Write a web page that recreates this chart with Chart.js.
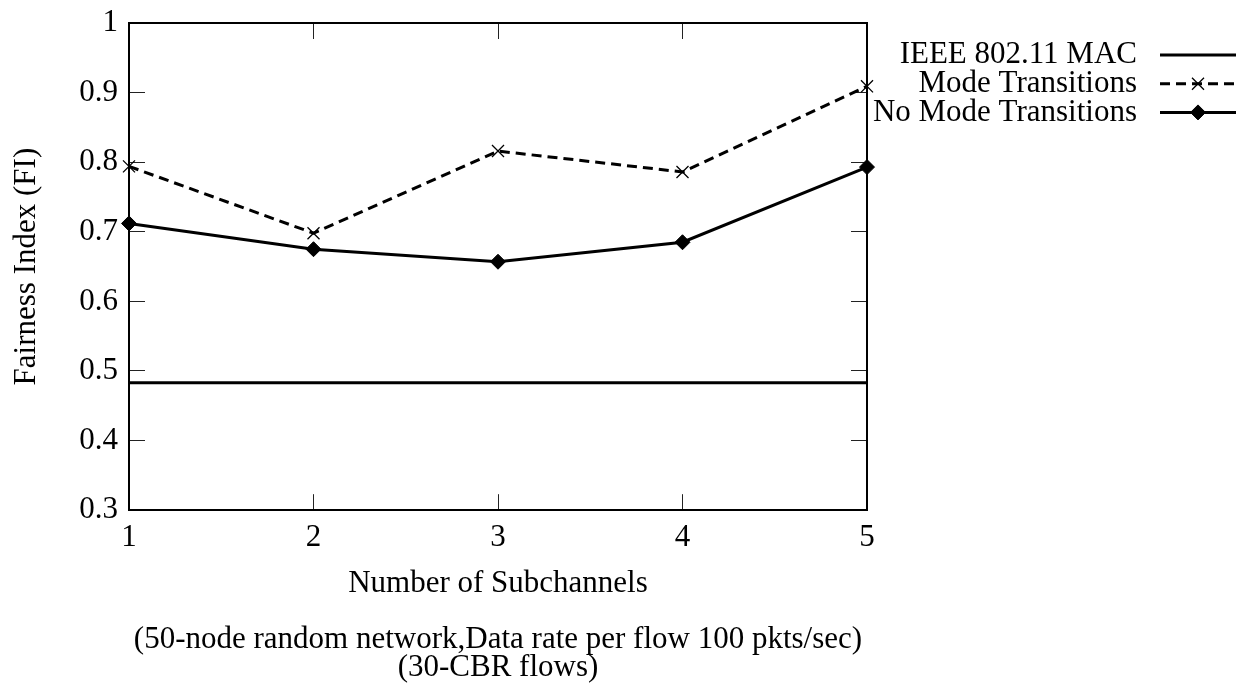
<!DOCTYPE html>
<html>
<head>
<meta charset="utf-8">
<title>Fairness Index vs Number of Subchannels</title>
<script src="https://cdn.jsdelivr.net/npm/chart.js@4.4.1/dist/chart.umd.min.js"></script>
<style>
  html, body { margin: 0; padding: 0; background: #fff; }
  #wrap { width: 1245px; height: 684px; }
</style>
</head>
<body>
<div id="wrap"><canvas id="fiChart" width="1245" height="684"></canvas></div>
<script>
// x categories and the three measured series
const subchannels = ['1', '2', '3', '4', '5'];
const ieeeMac = [0.483, 0.483, 0.483, 0.483, 0.483];
const modeTransitions = [0.794, 0.698, 0.816, 0.786, 0.909];
const noModeTransitions = [0.712, 0.675, 0.657, 0.685, 0.793];
const yTickValues = [0.3, 0.4, 0.5, 0.6, 0.7, 0.8, 0.9, 1];

const SERIF = "'Liberation Serif', 'Times New Roman', Times, serif";
Chart.defaults.font.family = SERIF;
Chart.defaults.font.size = 31;
Chart.defaults.color = '#000';

// gnuplot-like legend: right-aligned label, sample line to its right
const sideLegend = {
  id: 'sideLegend',
  afterDraw(chart) {
    const { ctx, chartArea } = chart;
    const textRight = chartArea.right + 270;
    const x0 = chartArea.right + 293;
    const x1 = chartArea.right + 369;
    ctx.save();
    ctx.font = '31px ' + SERIF;
    ctx.textAlign = 'right';
    ctx.textBaseline = 'middle';
    chart.data.datasets.forEach((ds, i) => {
      const y = chartArea.top + 32 + i * 28.7;
      ctx.fillStyle = '#000';
      ctx.fillText(ds.label, textRight, y);

      ctx.save();
      ctx.strokeStyle = ds.borderColor;
      ctx.lineWidth = ds.borderWidth;
      ctx.setLineDash(ds.borderDash || []);
      ctx.beginPath();
      ctx.moveTo(x0, y);
      ctx.lineTo(x1, y);
      ctx.stroke();
      ctx.restore();

      if (ds.pointRadius > 0) {
        ctx.save();
        ctx.fillStyle = ds.pointBackgroundColor;
        ctx.strokeStyle = ds.pointBorderColor;
        ctx.lineWidth = ds.pointBorderWidth;
        Chart.helpers.drawPoint(ctx, {
          pointStyle: ds.pointStyle,
          radius: ds.pointRadius,
          borderWidth: ds.pointBorderWidth,
          rotation: 0
        }, (x0 + x1) / 2, y);
        ctx.restore();
      }
    });
    ctx.restore();
  }
};

const setTicks = s => { s.ticks = yTickValues.map(v => ({ value: v })); };

// inward tick marks on all four sides
const frameGrid = { drawOnChartArea: false, tickLength: -16, color: '#222', lineWidth: 1 };
const frameBorder = { display: true, color: '#000', width: 2 };

new Chart(document.getElementById('fiChart'), {
  type: 'line',
  data: {
    labels: subchannels,
    datasets: [
      {
        label: 'IEEE 802.11 MAC',
        data: ieeeMac,
        borderColor: '#000',
        borderWidth: 3,
        pointRadius: 0,
        clip: false
      },
      {
        label: 'Mode Transitions',
        data: modeTransitions,
        borderColor: '#000',
        borderWidth: 3,
        borderDash: [10, 6],
        pointStyle: 'crossRot',
        pointRadius: 8.5,
        pointBorderWidth: 1.3,
        pointBorderColor: '#000',
        pointBackgroundColor: '#000',
        clip: false
      },
      {
        label: 'No Mode Transitions',
        data: noModeTransitions,
        borderColor: '#000',
        borderWidth: 3,
        pointStyle: 'rectRot',
        pointRadius: 7.5,
        pointBorderWidth: 1,
        pointBorderColor: '#000',
        pointBackgroundColor: '#000',
        clip: false
      }
    ]
  },
  options: {
    responsive: false,
    animation: false,
    devicePixelRatio: 1,
    layout: { padding: { top: 23, right: 378, bottom: 0, left: 0 } },
    elements: { line: { tension: 0 } },
    plugins: {
      legend: { display: false },
      tooltip: { enabled: false },
      title: {
        display: true,
        position: 'bottom',
        fullSize: false,
        text: ['(50-node random network,Data rate per flow 100 pkts/sec)', '(30-CBR flows)'],
        font: { size: 31, weight: 'normal', lineHeight: 0.9 },
        padding: { top: 10, bottom: 2 },
        color: '#000'
      }
    },
    scales: {
      x: {
        position: 'bottom',
        offset: false,
        grid: frameGrid,
        border: frameBorder,
        ticks: { padding: 25, maxRotation: 0, autoSkip: false },
        title: {
          display: true,
          text: 'Number of Subchannels',
          padding: { top: 0, bottom: 14 }
        },
        afterFit: s => { s.height = 106; }
      },
      xTop: {
        position: 'top',
        type: 'category',
        offset: false,
        grid: frameGrid,
        border: frameBorder,
        ticks: { display: false },
        afterFit: s => { s.height = 0; }
      },
      y: {
        position: 'left',
        min: 0.3,
        max: 1,
        afterBuildTicks: setTicks,
        grid: frameGrid,
        border: frameBorder,
        ticks: { padding: 27, callback: v => String(v) },
        title: {
          display: true,
          text: 'Fairness Index (FI)',
          padding: { top: 8, bottom: 0 }
        },
        // the tick padding also pads the top/bottom edges; keep only room for the label
        afterFit: s => { s.width = 129; s.paddingTop = 18; s.paddingBottom = 18; }
      },
      yRight: {
        position: 'right',
        min: 0.3,
        max: 1,
        afterBuildTicks: setTicks,
        grid: frameGrid,
        border: frameBorder,
        ticks: { display: false },
        afterFit: s => { s.width = 0; }
      }
    }
  },
  plugins: [sideLegend]
});
</script>
</body>
</html>
